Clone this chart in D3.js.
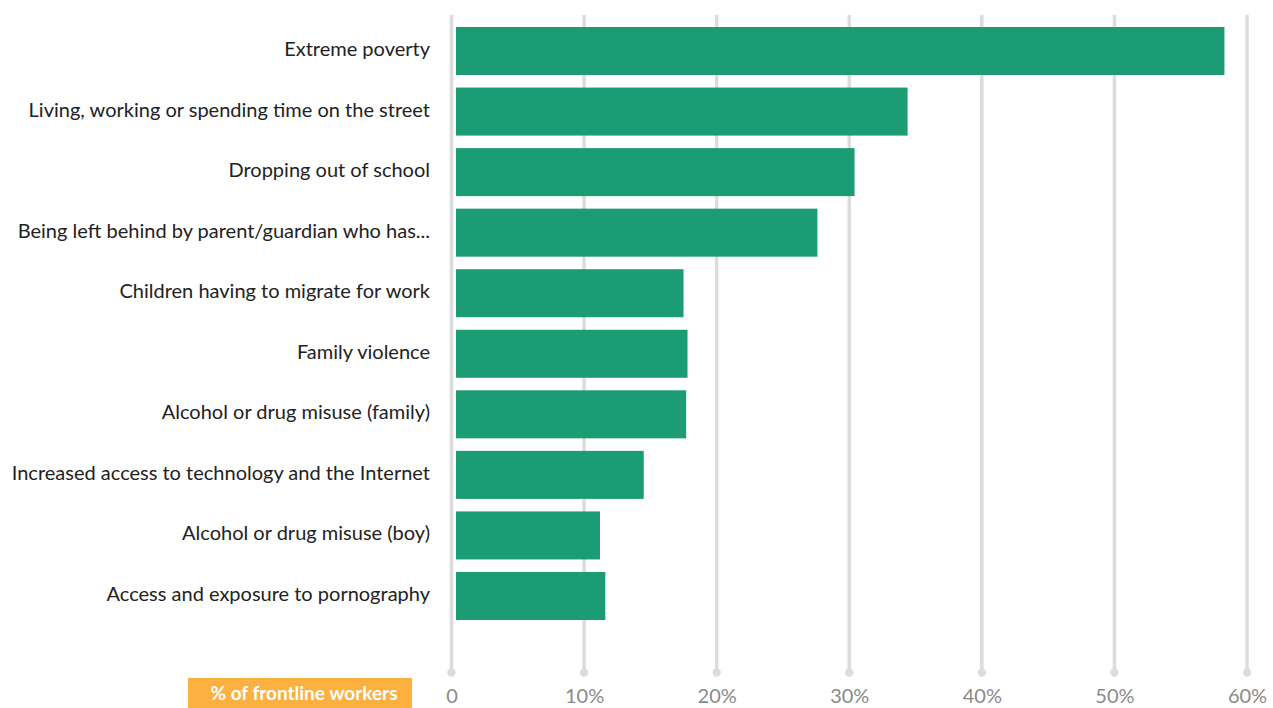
<!DOCTYPE html>
<html>
<head>
<meta charset="utf-8">
<script src="https://cdn.jsdelivr.net/npm/d3@7"></script>
<style>
  html, body { margin: 0; padding: 0; background: #ffffff; overflow: hidden; }
  svg { display: block; font-family: Lato, "Open Sans", sans-serif; }
</style>
</head>
<body>
<svg id="chart" width="1273" height="708"></svg>
<script>
// Factors named by frontline workers (share of respondents, %)
const categories = [
  "Extreme poverty",
  "Living, working or spending time on the street",
  "Dropping out of school",
  "Being left behind by parent/guardian who has...",
  "Children having to migrate for work",
  "Family violence",
  "Alcohol or drug misuse (family)",
  "Increased access to technology and the Internet",
  "Alcohol or drug misuse (boy)",
  "Access and exposure to pornography"
];
const values = [58.3, 34.4, 30.4, 27.6, 17.5, 17.8, 17.7, 14.5, 11.2, 11.6];
const tickValues = [0, 10, 20, 30, 40, 50, 60];
const tickLabels = ["0", "10%", "20%", "30%", "40%", "50%", "60%"];
const axisTitle = "% of frontline workers";

const svg = d3.select("#chart");

const x = d3.scaleLinear().domain([0, 60]).range([451.5, 1247]);
const y = d3.scaleBand()
  .domain(categories)
  .range([27, 620])
  .paddingInner(0.207)
  .paddingOuter(0);

const barGap = 4.5; // space between the zero gridline and the bar start

// Vertical gridlines ending in a small dot
const grid = svg.append("g").attr("class", "grid");
grid.selectAll("line")
  .data(tickValues)
  .join("line")
  .attr("x1", d => x(d))
  .attr("x2", d => x(d))
  .attr("y1", 15)
  .attr("y2", 672)
  .attr("stroke", "#dcdcdc")
  .attr("stroke-width", 3.5);
grid.selectAll("circle")
  .data(tickValues)
  .join("circle")
  .attr("cx", d => x(d))
  .attr("cy", 672.5)
  .attr("r", 4.2)
  .attr("fill", "#dcdcdc");

// Bars
svg.append("g")
  .selectAll("rect")
  .data(values)
  .join("rect")
  .attr("x", x(0) + barGap)
  .attr("y", (d, i) => y(categories[i]))
  .attr("width", d => x(d) - x(0) - barGap)
  .attr("height", y.bandwidth())
  .attr("fill", "#1b9c74");

// Category labels
svg.append("g")
  .selectAll("text")
  .data(categories)
  .join("text")
  .attr("x", 430)
  .attr("y", d => y(d) + y.bandwidth() / 2 - 2)
  .attr("dy", "0.35em")
  .attr("text-anchor", "end")
  .attr("font-size", 20)
  .attr("fill", "#222222")
  .text(d => d);

// X-axis tick labels
const xAxis = d3.axisBottom(x)
  .tickValues(tickValues)
  .tickFormat((d, i) => tickLabels[i])
  .tickSize(0)
  .tickPadding(0);
const axisG = svg.append("g")
  .attr("transform", "translate(0,689)")
  .call(xAxis);
axisG.select(".domain").remove();
axisG.selectAll("text")
  .attr("font-family", "Lato, 'Open Sans', sans-serif")
  .attr("font-size", 20)
  .attr("fill", "#8a8a8a")
  .attr("dy", "0.71em");

// Axis title badge
const badge = svg.append("g");
badge.append("rect")
  .attr("x", 188)
  .attr("y", 678)
  .attr("width", 224)
  .attr("height", 34)
  .attr("fill", "#fbb040");
badge.append("text")
  .attr("x", 304)
  .attr("y", 700)
  .attr("text-anchor", "middle")
  .attr("font-size", 19)
  .attr("font-weight", "bold")
  .attr("fill", "#ffffff")
  .text(axisTitle);
</script>
</body>
</html>
